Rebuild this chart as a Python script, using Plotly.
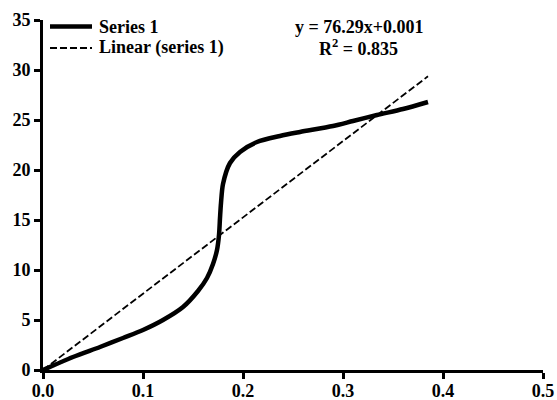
import plotly.graph_objects as go

# Series 1
series_x = [0, 0.03, 0.057, 0.08, 0.1, 0.12, 0.14, 0.155, 0.164, 0.17, 0.174, 0.176, 0.177, 0.178,
            0.18, 0.187, 0.197, 0.214, 0.237, 0.257, 0.29, 0.31, 0.334, 0.36, 0.385]
series_y = [0, 1.3, 2.3, 3.2, 4.0, 5.0, 6.3, 7.9, 9.2, 10.6, 12.0, 13.5, 15.2, 16.7,
            18.6, 20.7, 21.8, 22.8, 23.4, 23.8, 24.4, 24.9, 25.5, 26.1, 26.8]

# Linear trend (series 1)
trend_slope = 76.29
trend_intercept = 0.001
trend_x = [0, 0.385]
trend_y = [trend_slope * v + trend_intercept for v in trend_x]

x_ticks = [0, 0.1, 0.2, 0.3, 0.4, 0.5]
x_labels = ["0.0", "0.1", "0.2", "0.3", "0.4", "0.5"]
y_ticks = [0, 5, 10, 15, 20, 25, 30, 35]
legend_names = ["Series 1", "Linear (series 1)"]

FONT = "Liberation Serif"
W, H = 557, 400
ML, MR, MT, MB = 43, 14, 20, 30
PW, PH = W - ML - MR, H - MT - MB


def px2paper(px, py):
    return (px - ML) / PW, (H - MB - py) / PH


fig = go.Figure()
fig.add_trace(go.Scatter(x=series_x, y=series_y, mode="lines", name=legend_names[0], showlegend=False,
                         line=dict(color="black", width=4.5, shape="spline", smoothing=0.8)))
fig.add_trace(go.Scatter(x=trend_x, y=trend_y, mode="lines", name=legend_names[1], showlegend=False,
                         line=dict(color="black", width=1.8, dash="7px,3px")))

# manual legend (positioned to match reference)
leg_rows = [(26.5, dict(color="black", width=4.5)), (48, dict(color="black", width=1.8, dash="7px,3px"))]
for name, (py, ln) in zip(legend_names, leg_rows):
    x0, y0 = px2paper(50, py)
    x1, _ = px2paper(92, py)
    fig.add_shape(type="line", xref="paper", yref="paper", x0=x0, x1=x1, y0=y0, y1=y0, line=ln)
    tx, _ = px2paper(97, py)
    fig.add_annotation(x=tx, y=y0, xref="paper", yref="paper", xanchor="left", yanchor="middle",
                       showarrow=False, text="<b>%s</b>" % name,
                       font=dict(family=FONT, size=18, color="black"))

ex, ey = px2paper(359, 26.5)
fig.add_annotation(x=ex, y=ey, xref="paper", yref="paper", showarrow=False, yanchor="middle",
                   text="<b>y = %.2fx+%.3f</b>" % (trend_slope, trend_intercept),
                   font=dict(family=FONT, size=18, color="black"))
rx, ry = px2paper(358, 48)
fig.add_annotation(x=rx, y=ry, xref="paper", yref="paper", showarrow=False, yanchor="middle",
                   text="<b>R<sup>2</sup> = 0.835</b>",
                   font=dict(family=FONT, size=18, color="black"))

fig.update_layout(
    width=W, height=H,
    margin=dict(l=ML, r=MR, t=MT, b=MB, autoexpand=False),
    paper_bgcolor="white", plot_bgcolor="white",
    font=dict(family=FONT, size=18, color="black"),
    showlegend=False,
    xaxis=dict(range=[0, 0.5], tickvals=x_ticks, ticktext=["<b>%s</b>" % t for t in x_labels],
               showgrid=False, zeroline=False, showline=True, linecolor="black", linewidth=3,
               ticks="outside", ticklen=6, tickwidth=3, tickcolor="black", automargin=False,
               ticklabelstandoff=-4,
               tickfont=dict(family=FONT, size=18, color="black")),
    yaxis=dict(range=[0, 35], tickvals=y_ticks, ticktext=["<b>%d</b>" % t for t in y_ticks],
               showgrid=False, zeroline=False, showline=True, linecolor="black", linewidth=3,
               ticks="outside", ticklen=6, tickwidth=3, tickcolor="black", automargin=False,
               tickfont=dict(family=FONT, size=18, color="black")),
)

fig.write_html("out.html", config={"displayModeBar": False})
with open("out.html", "r", encoding="utf-8") as f:
    html = f.read()
html = html.replace("<head>", "<head><style>html,body{margin:0;padding:0;overflow:hidden;}</style>", 1)
with open("out.html", "w", encoding="utf-8") as f:
    f.write(html)
